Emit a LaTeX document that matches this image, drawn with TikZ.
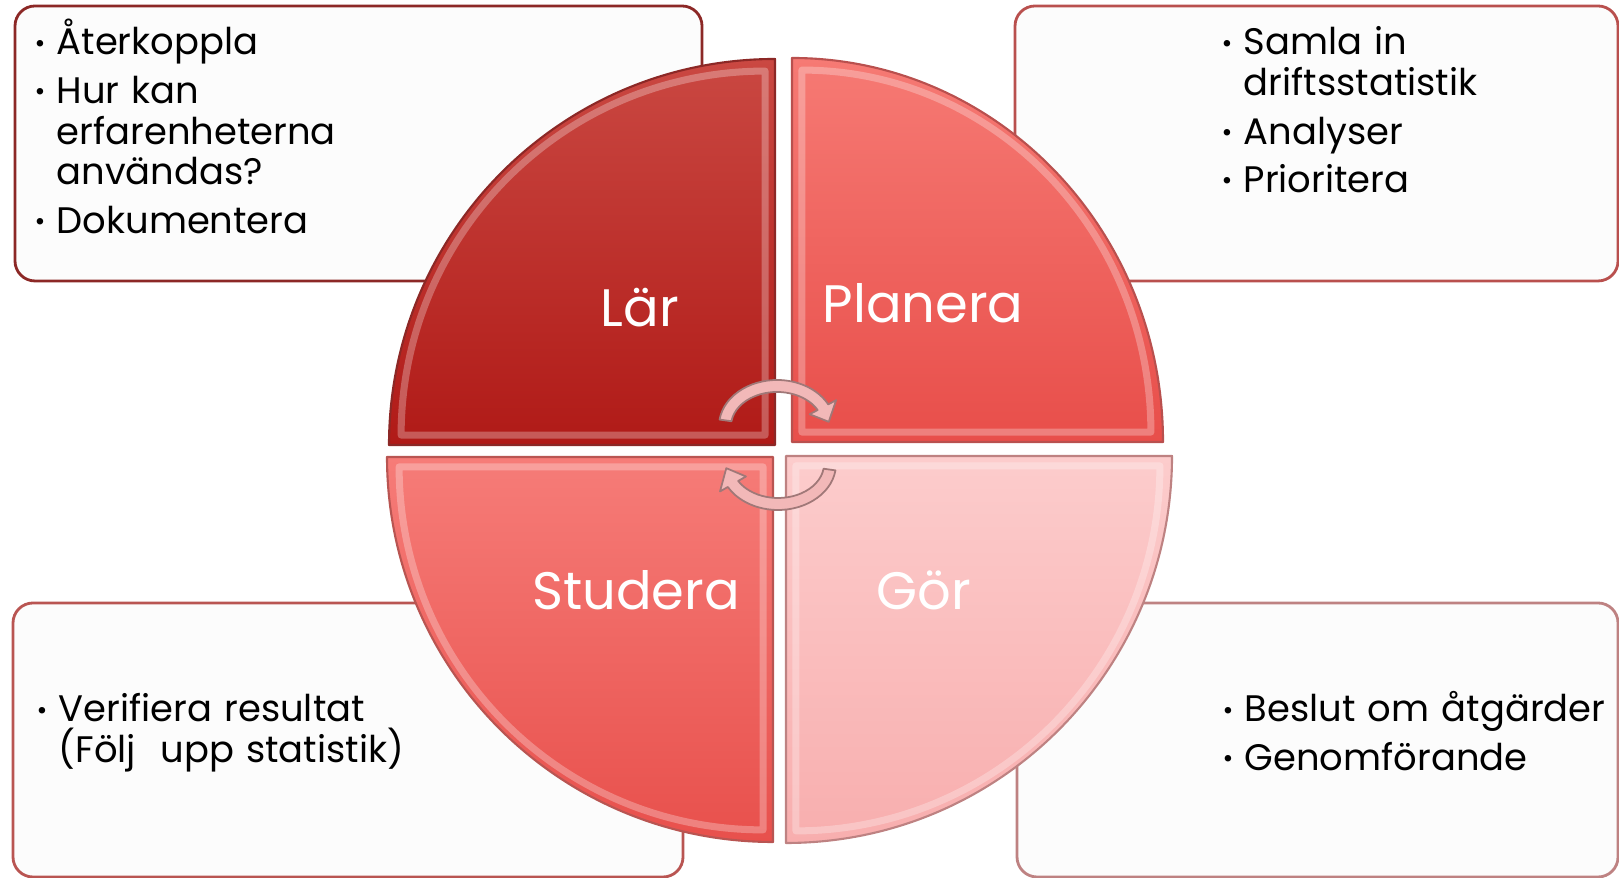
\documentclass[tikz,border=0pt]{standalone}
\usepackage{fontspec}
\setmainfont{Poppins}
\usetikzlibrary{calc}

\newlength{\bulw}\setlength{\bulw}{2.2mm}
\newcommand{\bulletmark}{\raisebox{0.08em}{\fontsize{7.5}{7.5}\selectfont\textbullet}}
\newcommand{\litem}[1]{\hangindent=\bulw\hangafter=1\noindent\makebox[\bulw][l]{\bulletmark}#1\par}

\tikzset{
  infobox/.style={rounded corners=2mm,fill=boxfill,line width=0.8pt},
  itemtext/.style={anchor=base west,inner sep=0pt,text width=60mm,align=left,
    font=\fontsize{10.5}{11.62}\selectfont,execute at begin node={\setlength{\parskip}{2.1pt}}},
  phase/.style={anchor=base,text=white,inner sep=0pt,font=\fontsize{15}{16}\selectfont},
  cyclearrow/.style={fill=arrowpink,draw=arrowedge,line width=0.5pt},
}

\begin{document}
\begin{tikzpicture}[x=0.1mm,y=0.1mm,line join=round]
\definecolor{boxfill}{RGB}{252,252,252}
\definecolor{larTop}{RGB}{202,72,66}\definecolor{larBot}{RGB}{176,26,23}\definecolor{larEdge}{RGB}{140,40,38}
\definecolor{plaTop}{RGB}{246,122,116}\definecolor{plaBot}{RGB}{232,78,74}\definecolor{plaEdge}{RGB}{185,80,78}
\definecolor{stuTop}{RGB}{246,124,120}\definecolor{stuBot}{RGB}{232,80,76}\definecolor{stuEdge}{RGB}{185,85,82}
\definecolor{gorTop}{RGB}{252,204,204}\definecolor{gorBot}{RGB}{248,174,174}\definecolor{gorEdge}{RGB}{190,130,130}
\definecolor{arrowpink}{RGB}{242,184,184}\definecolor{arrowedge}{RGB}{160,120,120}
\useasboundingbox (0,0) rectangle (1619,878);
% the four text boxes behind the wheel
\foreach \xa/\ya/\xb/\yb/\ec in {15/597/702/872/larEdge, 1015/597/1618/872/plaEdge,
    13/1/683/275/stuEdge, 1017/1/1618/275/gorEdge}{
  \draw[infobox,draw=\ec] (\xa,\ya) rectangle (\xb,\yb);}
% quarter discs: corner, radii, start angle, colours
\foreach \cx/\cy/\rx/\ry/\a/\ct/\cb/\ce in {775/433/386/386/90/larTop/larBot/larEdge,
    792/436/371/384/0/plaTop/plaBot/plaEdge, 773/421/386/385/180/stuTop/stuBot/stuEdge,
    786/422/386/387/270/gorTop/gorBot/gorEdge}{
  \pgfmathsetmacro\irx{\rx-22}\pgfmathsetmacro\iry{\ry-22}\pgfmathsetmacro\ba{\a+45}
  \draw[top color=\ct,bottom color=\cb,draw=\ce,line width=0.6pt]
    (\cx,\cy) -- ++(\a:{\rx} and {\ry}) arc[start angle=\a,delta angle=90,x radius=\rx,y radius=\ry] -- cycle;
  \draw[white,opacity=0.28,line width=2pt]
    ($(\cx,\cy)+(\ba:14)$) -- ++(\a:{\irx} and {\iry}) arc[start angle=\a,delta angle=90,x radius=\irx,y radius=\iry] -- cycle;}
% cycle arrows in the middle
\coordinate (topc) at (777,452);
\coordinate (botc) at (778,414);
\path[cyclearrow] ($(topc)+(172:58 and 46)$) arc[start angle=172,end angle=28,x radius=58,y radius=46]
  -- ($(topc)+(28:67 and 55)$) -- ($(topc)+(6:52 and 40)$) -- ($(topc)+(28:37 and 25)$)
  -- ($(topc)+(28:46 and 34)$) arc[start angle=28,end angle=172,x radius=46,y radius=34] -- cycle;
\path[cyclearrow] ($(botc)+(-8:58 and 46)$) arc[start angle=-8,end angle=-150,x radius=58,y radius=46]
  -- ($(botc)+(-150:67 and 55)$) -- ($(botc)+(-174:52 and 40)$) -- ($(botc)+(-150:37 and 25)$)
  -- ($(botc)+(-150:46 and 34)$) arc[start angle=-150,end angle=-8,x radius=46,y radius=34] -- cycle;
% phase names
\node[phase] (lar) at (640,551) {Lär};
\node[phase] (planera) at (923,555) {Planera};
\node[phase] (studera) at (636,268) {Studera};
\node[phase] (gor) at (924,268) {Gör};
% bullet lists
\node[itemtext] (tltext) at (34,823) {\litem{Återkoppla}\litem{Hur kan\newline erfarenheterna\newline användas?}\litem{Dokumentera}};
\node[itemtext] (trtext) at (1221,823) {\litem{Samla in\newline driftsstatistik}\litem{Analyser}\litem{Prioritera}};
\node[itemtext] (bltext) at (36,156) {\litem{Verifiera resultat\newline (Följ\ \ upp statistik)}};
\node[itemtext] (brtext) at (1222,156) {\litem{Beslut om åtgärder}\litem{Genomförande}};
\end{tikzpicture}
\end{document}
